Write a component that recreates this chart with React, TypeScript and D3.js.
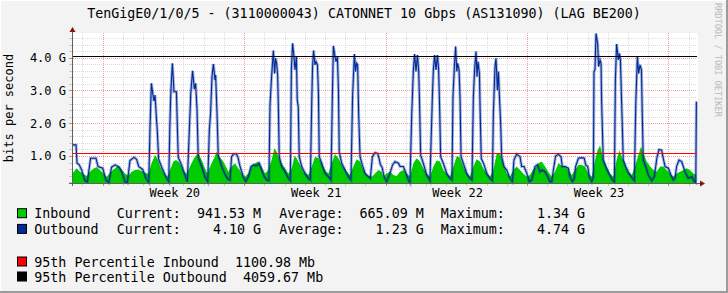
import React from "react";
import * as d3 from "d3";

// ---- data (time in days from graph start, values in Gbit/s) ----
const outTimes = [0.00,0.15,0.20,0.31,0.43,0.59,0.71,0.79,0.87,1.14,1.24,1.47,1.63,1.77,1.91,2.08,2.29,2.41,2.57,2.69,2.82,3.02,3.15,3.25,3.45,3.61,3.75,3.81,3.88,3.96,4.01,4.06,4.13,4.17,4.24,4.39,4.60,4.74,4.79,4.84,4.92,5.00,5.12,5.17,5.21,5.35,5.54,5.66,5.74,5.83,5.92,6.01,6.07,6.14,6.20,6.37,6.53,6.67,6.75,6.81,6.88,6.95,7.03,7.06,7.13,7.19,7.36,7.52,7.66,7.77,7.85,7.94,8.10,8.18,8.27,8.43,8.55,8.68,8.81,8.93,9.09,9.22,9.34,9.47,9.59,9.70,9.75,9.83,9.92,9.98,10.03,10.08,10.13,10.17,10.21,10.33,10.50,10.66,10.76,10.81,10.87,10.94,10.99,11.06,11.10,11.15,11.20,11.32,11.49,11.65,11.75,11.82,11.86,11.91,11.98,12.03,12.10,12.15,12.19,12.31,12.48,12.64,12.77,12.84,12.89,12.97,13.02,13.09,13.14,13.18,13.30,13.47,13.63,13.76,13.84,13.93,13.99,14.04,14.09,14.14,14.21,14.32,14.46,14.62,14.72,14.82,14.95,15.08,15.15,15.22,15.30,15.40,15.53,15.69,15.82,15.94,16.11,16.19,16.35,16.49,16.60,16.68,16.77,16.85,16.91,16.98,17.05,17.11,17.15,17.21,17.34,17.51,17.67,17.79,17.84,17.90,17.97,18.04,18.10,18.15,18.20,18.33,18.50,18.66,18.76,18.81,18.88,18.94,19.00,19.04,19.11,19.16,19.21,19.32,19.49,19.65,19.75,19.82,19.88,19.95,20.00,20.05,20.12,20.15,20.21,20.35,20.48,20.64,20.76,20.81,20.89,20.94,21.01,21.06,21.11,21.17,21.22,21.34,21.47,21.63,21.75,21.83,21.96,22.13,22.21,22.33,22.46,22.59,22.71,22.79,22.87,22.99,23.12,23.23,23.37,23.50,23.61,23.70,23.78,23.89,24.03,24.16,24.22,24.36,24.52,24.60,24.72,24.82,24.88,25.02,25.18,25.31,25.38,25.48,25.56,25.68,25.76,25.79,25.84,25.89,25.97,26.02,26.09,26.14,26.17,26.25,26.37,26.53,26.70,26.80,26.85,26.91,27.00,27.05,27.10,27.16,27.24,27.36,27.52,27.69,27.79,27.86,27.94,28.00,28.07,28.14,28.18,28.23,28.35,28.48,28.65,28.78,28.90,29.01,29.14,29.22,29.31,29.47,29.60,29.72,29.80,29.88,30.00,30.13,30.21,30.33,30.46,30.63,30.76,30.83,30.86];
const outValues = [1.34,1.34,0.78,0.73,0.57,0.25,0.21,0.57,0.93,0.93,0.68,0.63,0.27,0.19,0.66,0.73,0.66,0.52,0.22,0.18,0.86,0.96,0.90,0.68,0.59,0.32,0.20,1.80,3.22,2.86,2.68,2.86,2.15,1.80,0.90,0.66,0.37,0.22,1.80,2.91,3.83,2.96,2.96,1.80,0.96,0.76,0.42,0.22,1.49,2.91,3.60,3.04,3.22,2.41,0.96,0.68,0.37,0.22,1.80,2.30,3.42,3.81,3.32,3.47,2.30,1.03,0.68,0.45,0.30,0.27,0.98,1.06,1.06,0.93,0.68,0.37,0.22,0.37,0.68,0.73,0.70,0.78,0.57,0.37,0.27,0.25,2.51,3.42,4.22,3.52,3.98,3.83,3.47,2.41,0.98,0.68,0.52,0.32,0.25,3.63,4.44,4.03,3.63,4.03,2.71,2.51,0.98,0.68,0.47,0.32,0.27,2.71,3.73,4.22,3.78,3.88,3.78,2.91,0.98,0.78,0.47,0.37,0.27,2.81,4.36,4.03,3.88,4.03,3.01,1.13,0.78,0.57,0.37,0.27,2.81,4.11,3.58,3.83,3.78,2.30,0.98,0.73,0.47,0.37,0.32,0.98,1.10,1.08,0.93,0.73,0.66,0.37,0.22,0.47,0.73,0.83,0.78,0.68,0.68,0.47,0.27,0.19,2.30,3.63,4.11,3.58,4.08,3.63,2.76,1.03,0.78,0.42,0.25,2.81,3.63,4.08,3.63,4.08,3.63,2.46,0.98,0.78,0.47,0.32,0.27,2.81,3.73,4.34,3.58,3.83,3.63,2.76,0.98,0.78,0.47,0.32,0.27,2.81,3.63,4.19,3.42,3.88,3.52,2.51,0.93,0.73,0.47,0.32,0.25,2.30,3.73,3.98,3.01,3.58,2.81,2.00,0.98,0.68,0.57,0.32,0.22,0.88,1.06,0.98,0.68,0.68,0.47,0.22,0.27,0.47,0.68,0.73,0.52,0.57,0.52,0.37,0.22,0.22,0.57,1.00,1.05,0.98,0.68,0.68,0.63,0.37,0.22,0.32,0.68,0.93,0.95,0.93,0.73,0.68,0.37,0.22,0.37,3.58,3.63,4.74,4.44,3.73,3.93,3.83,2.61,0.88,0.68,0.47,0.27,0.22,3.32,4.42,3.93,4.13,3.93,2.61,0.88,0.68,0.47,0.32,0.25,2.61,4.05,3.52,3.78,3.63,2.30,0.88,0.68,0.42,0.25,0.37,0.93,1.20,1.18,0.93,0.68,0.63,0.42,0.27,0.32,0.68,0.88,0.83,0.68,0.47,0.32,0.37,0.22,0.19,2.66];

const inTimes = [0.00,0.18,0.35,0.51,0.68,0.84,1.04,1.17,1.34,1.50,1.67,1.83,2.08,2.24,2.41,2.57,2.74,2.90,3.07,3.23,3.48,3.73,3.89,4.06,4.17,4.31,4.50,4.67,4.80,4.97,5.10,5.26,5.46,5.63,5.79,5.99,6.20,6.37,6.53,6.65,6.82,6.98,7.11,7.24,7.44,7.61,7.69,7.85,8.02,8.18,8.35,8.51,8.68,8.84,9.01,9.17,9.34,9.50,9.67,9.83,9.97,10.08,10.20,10.33,10.50,10.66,10.83,10.96,11.07,11.24,11.40,11.65,11.82,11.98,12.15,12.31,12.48,12.64,12.81,12.97,13.14,13.30,13.55,13.71,13.88,14.04,14.21,14.37,14.54,14.79,14.95,15.12,15.28,15.36,15.53,15.69,15.86,16.02,16.19,16.35,16.52,16.68,16.85,17.01,17.18,17.34,17.51,17.67,17.84,18.00,18.17,18.33,18.50,18.66,18.83,19.00,19.16,19.32,19.49,19.65,19.82,19.98,20.15,20.31,20.48,20.64,20.81,20.97,21.14,21.30,21.47,21.63,21.80,21.96,22.13,22.29,22.46,22.62,22.79,22.95,23.04,23.20,23.37,23.53,23.70,23.86,24.03,24.19,24.36,24.52,24.69,24.85,25.02,25.18,25.35,25.51,25.68,25.84,25.97,26.09,26.25,26.42,26.58,26.75,26.91,27.05,27.16,27.33,27.50,27.66,27.82,27.99,28.12,28.24,28.40,28.57,28.73,28.90,29.06,29.22,29.39,29.55,29.72,29.88,30.05,30.21,30.38,30.54,30.71,30.86];
const inValues = [0.49,0.63,0.52,0.45,0.39,0.52,0.63,0.66,0.57,0.47,0.37,0.49,0.63,0.70,0.59,0.47,0.40,0.52,0.57,0.59,0.52,0.45,0.78,1.03,0.93,0.68,0.47,0.37,0.57,0.83,0.88,0.80,0.57,0.45,0.68,0.93,1.10,0.88,0.63,0.47,0.73,0.93,1.13,0.98,0.83,0.63,0.52,0.68,0.78,0.63,0.47,0.37,0.47,0.68,0.78,0.83,0.68,0.47,0.57,0.88,1.24,1.13,0.93,0.78,0.63,0.47,0.63,1.00,0.93,0.73,0.52,0.42,0.68,0.98,0.93,0.78,0.57,0.47,0.78,1.06,0.93,0.73,0.52,0.42,0.68,0.90,0.83,0.57,0.42,0.37,0.47,0.57,0.52,0.37,0.47,0.52,0.42,0.39,0.52,0.57,0.47,0.37,0.78,0.93,0.83,0.63,0.47,0.37,0.68,0.86,0.83,0.57,0.47,0.37,0.68,1.00,0.95,0.68,0.47,0.37,0.68,0.90,0.83,0.63,0.47,0.37,0.57,1.06,1.06,0.78,0.47,0.37,0.57,0.68,0.57,0.47,0.37,0.42,0.59,0.68,0.78,0.83,0.68,0.52,0.37,0.52,0.78,0.70,0.68,0.57,0.42,0.57,0.73,0.73,0.68,0.47,0.37,0.88,1.18,1.32,0.93,0.68,0.47,0.37,0.88,1.18,0.98,0.73,0.52,0.42,0.68,1.03,1.29,1.08,0.83,0.68,0.57,0.52,0.68,0.68,0.57,0.47,0.37,0.47,0.52,0.57,0.63,0.57,0.47,0.42];

const pct95In = 1.10098;
const pct95Out = 4.05967;

const yTickValues = [1, 2, 3, 4];
const weekStarts = [1.47, 8.47, 15.47, 22.47, 29.47];
const weekLabels = ["Week 20", "Week 21", "Week 22", "Week 23"];

const title = "TenGigE0/1/0/5 - (3110000043) CATONNET 10 Gbps (AS131090) (LAG BE200)";
const seriesNames = ["Inbound", "Outbound"];
const currentTexts = ["Current:  941.53 M", "Current:    4.10 G"];
const averageTexts = ["Average:  665.09 M", "Average:    1.23 G"];
const maximumTexts = ["Maximum:    1.34 G", "Maximum:    4.74 G"];
const pctTexts = ["95th Percentile Inbound", "95th Percentile Outbound"];
const pctValueTexts = ["1100.98 Mb", "4059.67 Mb"];

const GREEN = "#00CC00";
const BLUE = "#002A97";
const MONO = "'DejaVu Sans Mono', monospace";
const keep = (s: string) => s.replace(/ /g, "\u00A0");

export default function App() {
  const W = 728, H = 293;
  const L = 73, R = 697, T = 33, B = 183;
  const tEnd = 30.89;
  const x = d3.scaleLinear().domain([0, tEnd]).range([L, R]);
  const y = d3.scaleLinear().domain([0.177, 4.754]).range([B, T]);

  const outData = outTimes.map((t, i) => [t, outValues[i]] as [number, number]);
  const inData = inTimes.map((t, i) => [t, inValues[i]] as [number, number]);

  const line = d3.line<[number, number]>().x(d => x(d[0])).y(d => y(d[1]));
  const area = d3.area<[number, number]>().x(d => x(d[0])).y0(B).y1(d => y(d[1]));

  const dayLines: number[] = [];
  for (let k = -1; k <= 31; k++) {
    const t = weekStarts[0] + k;
    if (t >= 0 && t <= tEnd && (k % 7 !== 0)) dayLines.push(t);
  }
  const minorY: number[] = [];
  for (let v = 0.2; v < 4.75; v += 0.2) {
    const r = Math.round(v * 10) / 10;
    if (Math.abs(r - Math.round(r)) > 0.01 && r > 0.18) minorY.push(r);
  }
  const px = (v: number) => Math.round(v) + 0.5;

  return (
    <svg width={W} height={H} style={{ position: "absolute", left: 0, top: 0, display: "block" }}
      xmlns="http://www.w3.org/2000/svg">
      <rect x={0} y={0} width={W} height={H} fill="#F3F3F3" />
      {/* 3D frame */}
      <line x1={0} y1={0.5} x2={W} y2={0.5} stroke="#FFFFFF" />
      <line x1={0.5} y1={0} x2={0.5} y2={H} stroke="#FFFFFF" />
      <rect x={W - 2} y={0} width={2} height={H} fill="#9C9C9C" />
      <rect x={0} y={H - 2} width={W} height={2} fill="#9C9C9C" />

      {/* canvas */}
      <rect x={L - 1} y={T} width={R - L + 2} height={B - T} fill="#FFFFFF" />

      {/* grid */}
      <g strokeDasharray="1,1" strokeWidth={1}>
        {minorY.map(v => (
          <line key={"my" + v} x1={L} x2={R} y1={px(y(v))} y2={px(y(v))} stroke="#DCDCDC" />
        ))}
        {dayLines.map(t => (
          <line key={"dx" + t} x1={px(x(t))} x2={px(x(t))} y1={T} y2={B} stroke="#DCDCDC" />
        ))}
        {yTickValues.map(v => (
          <line key={"My" + v} x1={L} x2={R} y1={px(y(v))} y2={px(y(v))} stroke="#F0A0A0" />
        ))}
        {weekStarts.filter(t => t <= tEnd).map(t => (
          <line key={"wx" + t} x1={px(x(t))} x2={px(x(t))} y1={T} y2={B} stroke="#F0A0A0" />
        ))}
      </g>

      {/* data */}
      <path d={area(inData) || ""} fill={GREEN} />
      <path d={line(outData) || ""} fill="none" stroke={BLUE} strokeOpacity={0.35} strokeWidth={3} />
      <path d={line(outData) || ""} fill="none" stroke={BLUE} strokeWidth={1.1} />

      {/* percentile rules */}
      <line x1={L} x2={R} y1={px(y(pct95In))} y2={px(y(pct95In))} stroke="#FF0000" />
      <line x1={L} x2={R} y1={px(y(pct95Out))} y2={px(y(pct95Out))} stroke="#000000" />

      {/* axes ticks */}
      {minorY.map(v => (
        <line key={"ty" + v} x1={L - 4} x2={L - 1} y1={px(y(v))} y2={px(y(v))} stroke="#C8C8C8" />
      ))}
      {yTickValues.map(v => (
        <line key={"tY" + v} x1={L - 4} x2={L - 1} y1={px(y(v))} y2={px(y(v))} stroke="#E08080" />
      ))}
      {dayLines.map(t => (
        <line key={"tx" + t} x1={px(x(t))} x2={px(x(t))} y1={B + 1} y2={B + 3} stroke="#C8C8C8" />
      ))}
      {weekStarts.filter(t => t <= tEnd).map(t => (
        <line key={"tX" + t} x1={px(x(t))} x2={px(x(t))} y1={B + 1} y2={B + 3} stroke="#E08080" />
      ))}
      <line x1={L - 0.5} x2={L - 0.5} y1={T - 4} y2={B + 3} stroke="#606060" />
      <line x1={L - 4} x2={R + 3} y1={B + 0.5} y2={B + 0.5} stroke="#606060" />
      <path d={`M${L - 3.5},${T - 1} L${L + 2.5},${T - 1} L${L - 0.5},${T - 6} Z`} fill="#8B1010" />
      <path d={`M${R + 3},${B - 2.5} L${R + 3},${B + 3.5} L${R + 8},${B + 0.5} Z`} fill="#8B1010" />

      {/* axis labels */}
      <g fontFamily={MONO} fontSize={12} fill="#000">
        {yTickValues.map(v => (
          <text key={"yl" + v} x={66} y={y(v) + 4.3} textAnchor="end">{keep(d3.format(".1f")(v) + " G")}</text>
        ))}
        {weekLabels.map((lab, i) => (
          <text key={lab} x={x(weekStarts[i] + 3.57)} y={197} textAnchor="middle">{keep(lab)}</text>
        ))}
        <text transform={`translate(13,${(T + B) / 2}) rotate(-90)`} textAnchor="middle">{keep("bits per second")}</text>
      </g>

      <text x={W / 2} y={18} textAnchor="middle" fontFamily={MONO} fontSize={13.33} fill="#000">{keep(title)}</text>

      <text transform={`translate(715,3) rotate(90)`} fontFamily={MONO} fontSize={8.6} fill="#BBBBBB">{keep("RRDTOOL / TOBI OETIKER")}</text>

      {/* legend */}
      <g fontFamily={MONO} fontSize={13.33} fill="#000">
        {seriesNames.map((name, i) => {
          const by = 218.2 + i * 15.7;
          return (
            <g key={name}>
              <rect x={17.5} y={by - 9.5} width={9} height={9} fill={i === 0 ? GREEN : BLUE} stroke="#000" />
              <text x={34.3} y={by}>{keep(name)}</text>
              <text x={116.7} y={by}>{keep(currentTexts[i])}</text>
              <text x={279.3} y={by}>{keep(averageTexts[i])}</text>
              <text x={440.7} y={by}>{keep(maximumTexts[i])}</text>
            </g>
          );
        })}
        {pctTexts.map((txt, i) => {
          const by = 266.5 + i * 15;
          return (
            <g key={txt}>
              <rect x={17.5} y={by - 9.5} width={9} height={9} fill={i === 0 ? "#FF0000" : "#000000"} stroke="#000" />
              <text x={34.3} y={by}>{keep(txt + "  " + pctValueTexts[i])}</text>
            </g>
          );
        })}
      </g>
    </svg>
  );
}
